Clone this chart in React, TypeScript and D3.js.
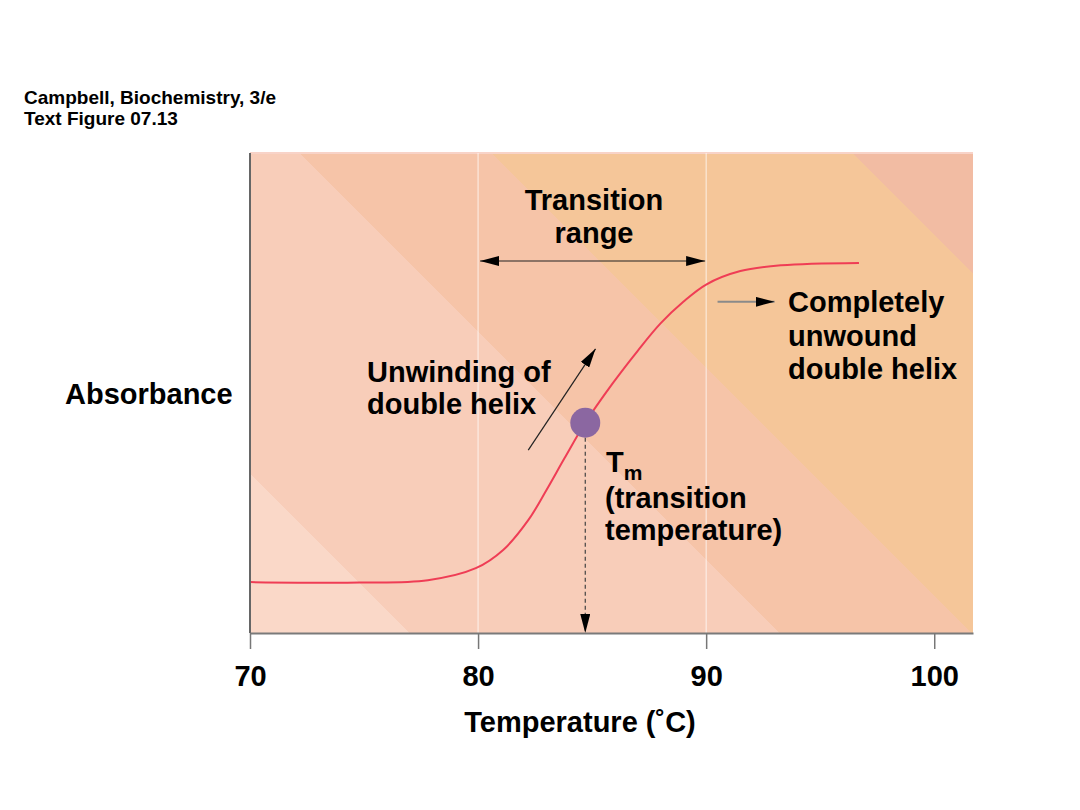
import React, { useEffect, useRef } from 'react';
import * as d3 from 'd3';

// melting curve (absorbance in arbitrary units)
const temps = [70, 74.8, 77.8, 79.9, 81.1, 82.2, 83.0, 83.8, 84.7, 85.9, 87.0, 88.0, 89.0, 90.0, 91.5, 93.3, 96.7];
const absorb = [10.6, 10.5, 11.0, 13.5, 17.3, 23.5, 29.8, 36.5, 43.8, 52.0, 58.8, 64.5, 69.0, 72.6, 75.4, 76.6, 77.1];

const xTicks = [70, 80, 90, 100];
const gridTemps = [80, 90];
const tm = 84.7;
const tmAbs = 43.8;
const transitionRange = [80, 90];

const titleLines = ['Campbell, Biochemistry, 3/e', 'Text Figure 07.13'];
const rangeLabel = ['Transition', 'range'];
const unwoundLabel = ['Completely', 'unwound', 'double helix'];
const unwindingLabel = ['Unwinding of', 'double helix'];
const tmLabel = ['(transition', 'temperature)'];

// diagonal background bands: [offset start, colour]
const bandStops = [
  [0, '#fad8c8'],
  [0.133, '#f8cdb9'],
  [0.44, '#f6c4a8'],
  [0.6, '#f5c699'],
  [0.9, '#f2bca3'],
];

const font = '"Liberation Sans", Arial, Helvetica, sans-serif';

const App = () => {
  const axisRef = useRef(null);

  const width = 1080;
  const height = 810;
  const margin = { top: 153, right: 107, bottom: 177, left: 250 };
  const plotBottom = height - margin.bottom;

  const x = d3.scaleLinear().domain([70, 101.7]).range([margin.left, width - margin.right]);
  const y = d3.scaleLinear().domain([0, 100]).range([plotBottom, margin.top]);

  const pts = temps.map((t, i) => [t, absorb[i]]);
  const line = d3.line()
    .x(d => x(d[0]))
    .y(d => y(d[1]))
    .curve(d3.curveCatmullRom.alpha(0.5));

  const tmY = y(tmAbs);
  const r = 15;

  useEffect(() => {
    const g = d3.select(axisRef.current);
    g.call(d3.axisBottom(x).tickValues(xTicks).tickSize(16).tickSizeOuter(0).tickFormat(d3.format('d')));
    g.select('.domain').attr('stroke', '#7a7a7a').attr('stroke-width', 2);
    g.selectAll('.tick line').attr('stroke', '#777').attr('stroke-width', 1.5);
    g.selectAll('.tick text')
      .attr('y', 53)
      .attr('dy', 0)
      .attr('fill', '#000')
      .style('font-family', font)
      .style('font-weight', 'bold')
      .style('font-size', '29px');
  }, []);

  const L = (width - margin.right - margin.left + plotBottom - margin.top) / 2;

  // arrow annotations, in data coordinates
  const unwindArrow = [[82.2, 38.1], [85.15, 59.2]];
  const unwoundArrow = [[90.5, 69.0], [93.0, 69.0]];

  return (
    <svg width={width} height={height} style={{ position: 'absolute', left: 0, top: 0, background: '#fff' }}>
      <defs>
        <linearGradient id="bands" gradientUnits="userSpaceOnUse"
          x1={margin.left} y1={plotBottom} x2={margin.left + L} y2={plotBottom - L}>
          {bandStops.map((s, i) => {
            const next = bandStops[i + 1];
            return (
              <React.Fragment key={i}>
                <stop offset={s[0]} stopColor={s[1]} />
                <stop offset={next ? next[0] : 1} stopColor={s[1]} />
              </React.Fragment>
            );
          })}
        </linearGradient>
        <marker id="head" viewBox="0 0 10 10" refX="10" refY="5" markerWidth="19" markerHeight="10"
          markerUnits="userSpaceOnUse" orient="auto-start-reverse" preserveAspectRatio="none">
          <path d="M0,0 L10,5 L0,10 z" fill="#000" />
        </marker>
      </defs>

      {titleLines.map((t, i) => (
        <text key={t} x={24} y={104 + i * 21} fontFamily={font} fontWeight="bold" fontSize={19}>{t}</text>
      ))}

      <rect x={margin.left} y={margin.top} width={width - margin.right - margin.left}
        height={plotBottom - margin.top} fill="url(#bands)" />
      <line x1={margin.left} x2={width - margin.right} y1={margin.top} y2={margin.top} stroke="#f8d3c8" strokeWidth={2} />

      {gridTemps.map(t => (
        <line key={t} x1={x(t)} x2={x(t)} y1={margin.top} y2={plotBottom} stroke="#fff" strokeOpacity={0.75} strokeWidth={1} />
      ))}

      <path d={line(pts)} fill="none" stroke="#ef3d55" strokeWidth={2} />

      {/* Tm marker and drop line */}
      <line x1={x(tm)} x2={x(tm)} y1={tmY + r} y2={plotBottom} stroke="#444" strokeWidth={1.2}
        strokeDasharray="4,3" markerEnd="url(#head)" />
      <circle cx={x(tm)} cy={tmY} r={r} fill="#8b67a1" />

      {/* transition range */}
      <line x1={x(transitionRange[0]) + 2} x2={x(transitionRange[1]) - 1} y1={261} y2={261}
        stroke="#222" strokeWidth={1.2} markerStart="url(#head)" markerEnd="url(#head)" />
      {rangeLabel.map((t, i) => (
        <text key={t} x={594} y={210 + i * 33} textAnchor="middle" fontFamily={font} fontWeight="bold" fontSize={29}>{t}</text>
      ))}

      <line x1={x(unwindArrow[0][0])} y1={y(unwindArrow[0][1])} x2={x(unwindArrow[1][0])} y2={y(unwindArrow[1][1])}
        stroke="#222" strokeWidth={1.2} markerEnd="url(#head)" />
      {unwindingLabel.map((t, i) => (
        <text key={t} x={367} y={382 + i * 32} fontFamily={font} fontWeight="bold" fontSize={29}>{t}</text>
      ))}

      <line x1={x(unwoundArrow[0][0])} y1={y(unwoundArrow[0][1])} x2={x(unwoundArrow[1][0])} y2={y(unwoundArrow[1][1])}
        stroke="#8a8a8a" strokeWidth={2} markerEnd="url(#head)" />
      {unwoundLabel.map((t, i) => (
        <text key={t} x={788} y={312 + i * 33.5} fontFamily={font} fontWeight="bold" fontSize={29}>{t}</text>
      ))}

      <text x={606} y={472} fontFamily={font} fontWeight="bold" fontSize={29}>
        T<tspan fontSize={21} dy={8}>m</tspan>
      </text>
      {tmLabel.map((t, i) => (
        <text key={t} x={605} y={508 + i * 32} fontFamily={font} fontWeight="bold" fontSize={29}>{t}</text>
      ))}

      <line x1={margin.left} x2={margin.left} y1={margin.top} y2={plotBottom} stroke="#666" strokeWidth={2} />
      <g ref={axisRef} transform={`translate(0,${plotBottom})`} />

      <text x={65} y={404} fontFamily={font} fontWeight="bold" fontSize={29}>Absorbance</text>
      <text x={580} y={732} textAnchor="middle" fontFamily={font} fontWeight="bold" fontSize={29}>Temperature (˚C)</text>
    </svg>
  );
};

export default App;
